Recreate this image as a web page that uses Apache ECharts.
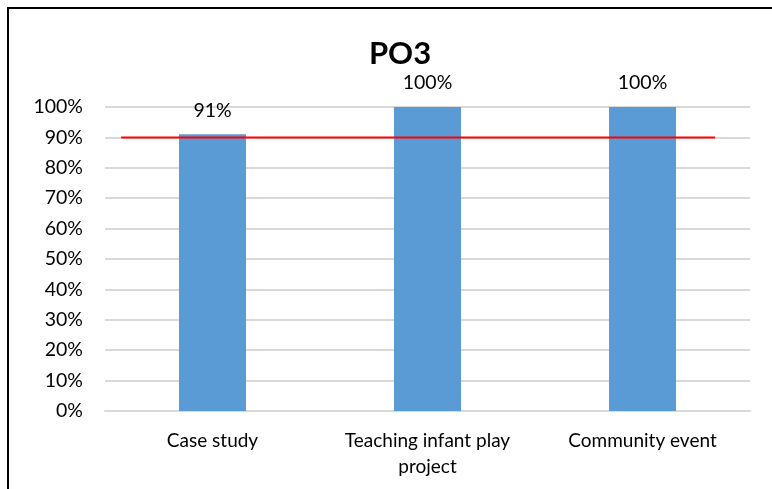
<!DOCTYPE html>
<html>
<head>
<meta charset="utf-8">
<script src="https://cdn.jsdelivr.net/npm/echarts@6/dist/echarts.min.js"></script>
<style>
  html, body { margin: 0; padding: 0; background: #fff; overflow: hidden; }
  #frame { position: absolute; left: 7px; top: 7px; width: 780px; height: 500px; border: 2px solid #000; box-sizing: border-box; }
  #chart { position: absolute; left: 0; top: 0; width: 772px; height: 489px; }
</style>
</head>
<body>
<div id="frame"></div>
<div id="chart"></div>
<script>
// chart data
const categories = ["Case study", "Teaching infant play\nproject", "Community event"];
const values = [0.91, 1.0, 1.0];
// target line (90%), drawn across part of the plot width
const target = 0.9;
const targetSpan = [0.025, 0.946];

const font = "Lato, 'Open Sans', sans-serif";
const chart = echarts.init(document.getElementById("chart"));

const option = {
  animation: false,
  title: {
    text: "PO3",
    left: 395,
    top: 33,
    textAlign: "center",
    textStyle: { fontFamily: font, fontWeight: "bold", fontSize: 31, color: "#000" }
  },
  grid: { left: 105, right: 22, top: 107, bottom: 78 },
  xAxis: [
    {
      type: "category",
      data: categories,
      axisLine: { show: true, lineStyle: { color: "#d9d9d9", width: 2 } },
      axisTick: { show: false },
      axisLabel: {
        color: "#000",
        fontFamily: font,
        fontSize: 19,
        margin: 17,
        lineHeight: 26,
        interval: 0,
        hideOverlap: false
      }
    },
    { type: "value", min: 0, max: 1, show: false }
  ],
  yAxis: {
    type: "value",
    min: 0,
    max: 1,
    interval: 0.1,
    axisLine: { show: false },
    axisTick: { show: false },
    splitLine: { lineStyle: { color: "#d9d9d9", width: 2 } },
    axisLabel: {
      color: "#000",
      fontFamily: font,
      fontSize: 19.5,
      margin: 22,
      formatter: v => Math.round(v * 100) + "%"
    }
  },
  series: [
    {
      type: "bar",
      data: values,
      barWidth: 67,
      itemStyle: { color: "#5b9bd5" },
      label: {
        show: true,
        position: "top",
        distance: 14,
        color: "#000",
        fontFamily: font,
        fontSize: 19.5,
        formatter: p => Math.round(p.value * 100) + "%"
      }
    },
    {
      type: "line",
      xAxisIndex: 1,
      data: targetSpan.map(x => [x, target]),
      symbol: "none",
      lineStyle: { color: "#ff0000", width: 2 },
      z: 5
    }
  ]
};

chart.setOption(option);
</script>
</body>
</html>
